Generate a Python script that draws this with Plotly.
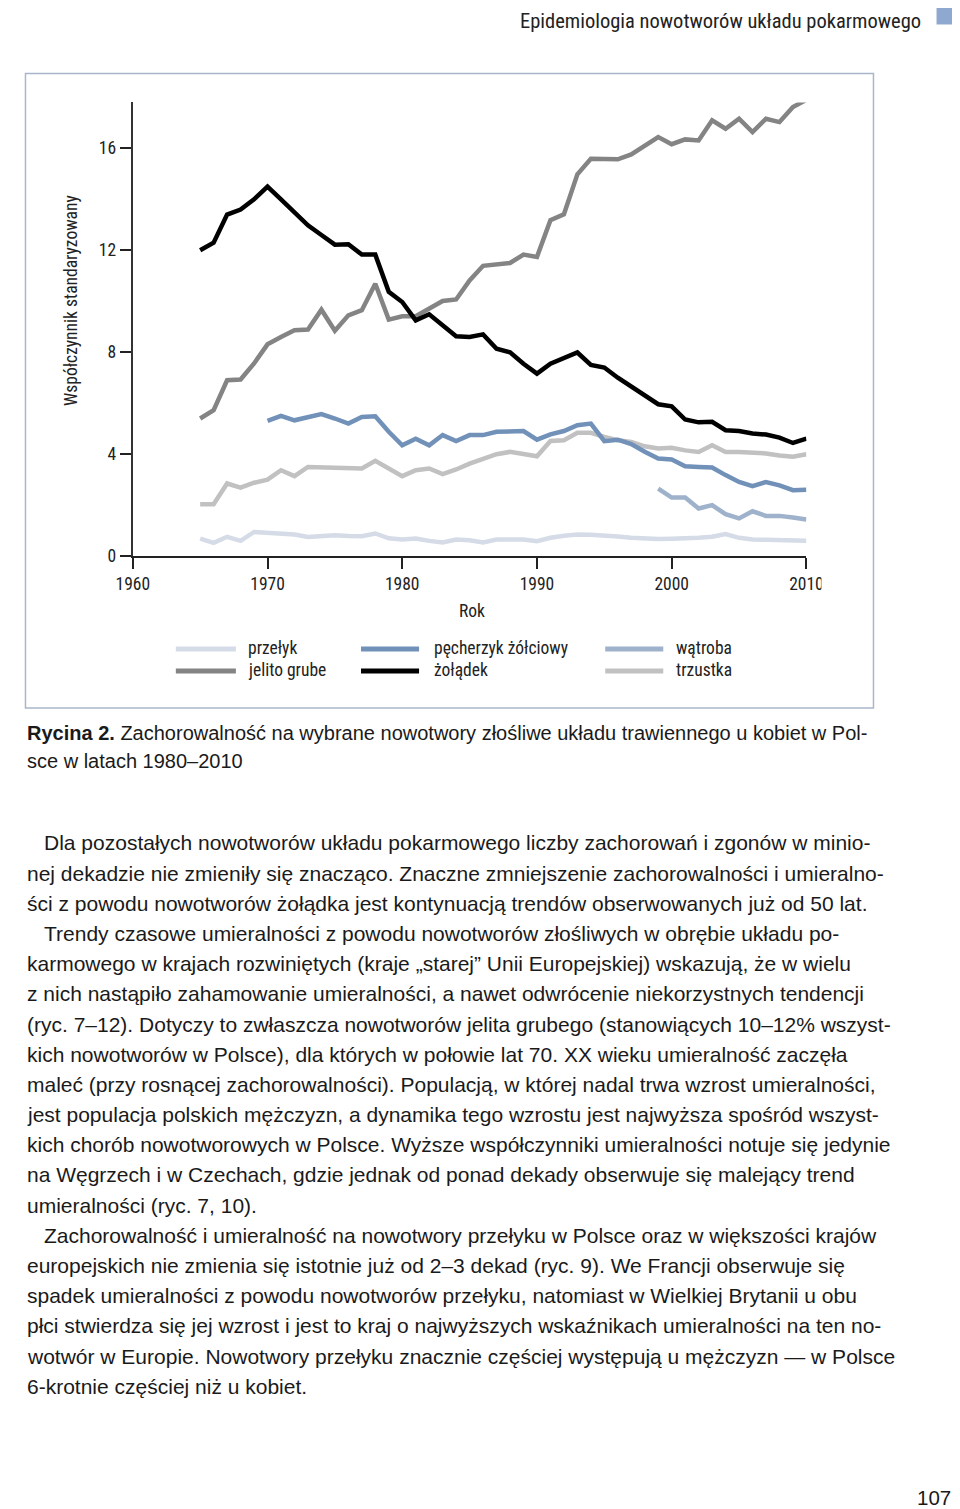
import plotly.graph_objects as go

# figure size and the observed page->picture mapping (picture X = AX + SX*fx)
W, H = 968, 1510
AX, SX = 25.3, 0.964
AY, SY = 7.5, 0.994

# ---------------- data ----------------
years = list(range(1965, 2011))
years_gb = list(range(1970, 2011))
years_liver = list(range(1999, 2011))

przelyk = [0.69, 0.52, 0.76, 0.6, 0.95, 0.93, 0.91, 0.85, 0.75, 0.8,
           0.82, 0.79, 0.78, 0.89, 0.7, 0.65, 0.69, 0.6, 0.54, 0.65,
           0.62, 0.54, 0.65, 0.65, 0.65, 0.59, 0.72, 0.8, 0.85, 0.84,
           0.82, 0.77, 0.72, 0.68, 0.67, 0.68, 0.69, 0.72, 0.76, 0.87,
           0.72, 0.65, 0.64, 0.63, 0.62, 0.6]
trzustka = [2.04, 2.04, 2.85, 2.69, 2.88, 3.0, 3.37, 3.14, 3.5, 3.49,
            3.48, 3.46, 3.44, 3.74, 3.44, 3.14, 3.37, 3.44, 3.22, 3.4,
            3.63, 3.83, 4.0, 4.09, 4.0, 3.92, 4.52, 4.55, 4.84, 4.84,
            4.68, 4.55, 4.48, 4.31, 4.22, 4.25, 4.15, 4.09, 4.35, 4.09,
            4.09, 4.08, 4.03, 3.95, 3.9, 4.0]
watroba = [2.65, 2.3, 2.3, 1.87, 2.0, 1.65, 1.48, 1.76, 1.58, 1.58, 1.52, 1.44]
pecherzyk = [5.31, 5.5, 5.33, 5.46, 5.57, 5.4, 5.2, 5.46, 5.49, 4.88,
             4.35, 4.61, 4.35, 4.75, 4.52, 4.75, 4.75, 4.88, 4.88, 4.91,
             4.57, 4.78, 4.91, 5.14, 5.2, 4.51, 4.57, 4.4, 4.1, 3.83,
             3.79, 3.53, 3.5, 3.48, 3.18, 2.91, 2.75, 2.91, 2.78, 2.59, 2.61]
jelito = [5.4, 5.73, 6.9, 6.93, 7.56, 8.31, 8.6, 8.86, 8.89, 9.67,
          8.84, 9.45, 9.65, 10.69, 9.28, 9.41, 9.41, 9.71, 10.01, 10.07,
          10.82, 11.39, 11.45, 11.5, 11.83, 11.74, 13.18, 13.41, 14.98, 15.59,
          15.58, 15.57, 15.76, 16.08, 16.44, 16.16, 16.35, 16.31, 17.1, 16.77,
          17.16, 16.64, 17.16, 17.03, 17.62, 17.9]
zoladek = [12.0, 12.3, 13.4, 13.6, 14.0, 14.5, 14.0, 13.5, 12.98, 12.6,
           12.22, 12.24, 11.83, 11.83, 10.37, 9.97, 9.25, 9.49, 9.06, 8.63,
           8.6, 8.7, 8.14, 8.0, 7.55, 7.16, 7.55, 7.75, 7.99, 7.5,
           7.4, 7.0, 6.65, 6.3, 5.96, 5.88, 5.36, 5.25, 5.27, 4.94,
           4.91, 4.81, 4.77, 4.65, 4.44, 4.61]

x_ticks = [1960, 1970, 1980, 1990, 2000, 2010]
y_ticks = [0, 4, 8, 12, 16]

series = [
    ("przełyk", years, przelyk, "#d5dce7"),
    ("trzustka", years, trzustka, "#c1c1c1"),
    ("wątroba", years_liver, watroba, "#9fb2cb"),
    ("pęcherzyk żółciowy", years_gb, pecherzyk, "#7191b9"),
    ("jelito grube", years, jelito, "#848485"),
    ("żołądek", years, zoladek, "#000000"),
]

legend_rows = [
    [("przełyk", "#d5dce7"), ("pęcherzyk żółciowy", "#7191b9"), ("wątroba", "#9fb2cb")],
    [("jelito grube", "#848485"), ("żołądek", "#000000"), ("trzustka", "#c1c1c1")],
]

header = "Epidemiologia nowotworów układu pokarmowego"
caption_lines = [
    "<b>Rycina 2.</b> Zachorowalność na wybrane nowotwory złośliwe układu trawiennego u kobiet w Pol-",
    "sce w latach 1980–2010",
]
body_lines = [
    (True, "Dla pozostałych nowotworów układu pokarmowego liczby zachorowań i zgonów w minio-"),
    (False, "nej dekadzie nie zmieniły się znacząco. Znaczne zmniejszenie zachorowalności i umieralno-"),
    (False, "ści z powodu nowotworów żołądka jest kontynuacją trendów obserwowanych już od 50 lat."),
    (True, "Trendy czasowe umieralności z powodu nowotworów złośliwych w obrębie układu po-"),
    (False, "karmowego w krajach rozwiniętych (kraje „starej” Unii Europejskiej) wskazują, że w wielu"),
    (False, "z nich nastąpiło zahamowanie umieralności, a nawet odwrócenie niekorzystnych tendencji"),
    (False, "(ryc. 7–12). Dotyczy to zwłaszcza nowotworów jelita grubego (stanowiących 10–12% wszyst-"),
    (False, "kich nowotworów w Polsce), dla których w połowie lat 70. XX wieku umieralność zaczęła"),
    (False, "maleć (przy rosnącej zachorowalności). Populacją, w której nadal trwa wzrost umieralności,"),
    (False, "jest populacja polskich mężczyzn, a dynamika tego wzrostu jest najwyższa spośród wszyst-"),
    (False, "kich chorób nowotworowych w Polsce. Wyższe współczynniki umieralności notuje się jedynie"),
    (False, "na Węgrzech i w Czechach, gdzie jednak od ponad dekady obserwuje się malejący trend"),
    (False, "umieralności (ryc. 7, 10)."),
    (True, "Zachorowalność i umieralność na nowotwory przełyku w Polsce oraz w większości krajów"),
    (False, "europejskich nie zmienia się istotnie już od 2–3 dekad (ryc. 9). We Francji obserwuje się"),
    (False, "spadek umieralności z powodu nowotworów przełyku, natomiast w Wielkiej Brytanii u obu"),
    (False, "płci stwierdza się jej wzrost i jest to kraj o najwyższych wskaźnikach umieralności na ten no-"),
    (False, "wotwór w Europie. Nowotwory przełyku znacznie częściej występują u mężczyzn — w Polsce"),
    (False, "6-krotnie częściej niż u kobiet."),
]


def px(x):
    fx = max((x - AX) / SX, 0.5)
    return fx / W


def py(y):
    return 1 - ((y - AY) / SY) / H


NARROW = "Liberation Sans Narrow, Roboto Condensed, Arial Narrow, Roboto, sans-serif"
BODY = "Liberation Sans, Arial, sans-serif"

fig = go.Figure()
for name, xs, ys, col in series:
    fig.add_trace(go.Scatter(x=xs, y=ys, mode="lines", name=name,
                             line=dict(color=col, width=4.5), showlegend=False,
                             hoverinfo="skip"))

shapes = []
annotations = []

# figure box
shapes.append(dict(type="rect", xref="paper", yref="paper", x0=px(8), x1=px(873),
                   y0=py(708), y1=py(73), line=dict(color="#a9b7ca", width=1.5),
                   fillcolor="rgba(0,0,0,0)", layer="below"))
# header square
shapes.append(dict(type="rect", xref="paper", yref="paper", x0=px(936), x1=px(954),
                   y0=py(24), y1=py(6), line=dict(width=0), fillcolor="#8ea8cf"))
# clip last tick label like reference
shapes.append(dict(type="rect", xref="paper", yref="paper", x0=px(821), x1=px(845),
                   y0=py(600), y1=py(574), line=dict(width=0), fillcolor="white",
                   layer="above"))

# legend
col_x = [(176, 236, 246), (361, 419, 432), (605, 663, 674)]
row_y = [649, 671]
for r, row in enumerate(legend_rows):
    for c, (label, colr) in enumerate(row):
        x0, x1, xt = col_x[c]
        shapes.append(dict(type="line", xref="paper", yref="paper", x0=px(x0), x1=px(x1),
                           y0=py(row_y[r]), y1=py(row_y[r]), line=dict(color=colr, width=5)))
        annotations.append(dict(text=label, x=px(xt), y=py(row_y[r] - 1), xref="paper", yref="paper",
                                xanchor="left", yanchor="middle", showarrow=False,
                                font=dict(family=NARROW, size=17.5, color="#222")))

# axis titles
annotations.append(dict(text="Współczynnik standaryzowany", x=px(72), y=py(300), xref="paper",
                        yref="paper", textangle=-90, showarrow=False, xanchor="center",
                        yanchor="middle", font=dict(family=NARROW, size=17.5, color="#222")))
annotations.append(dict(text="Rok", x=px(472), y=py(611), xref="paper", yref="paper",
                        showarrow=False, xanchor="center", yanchor="middle",
                        font=dict(family=NARROW, size=17.5, color="#222")))

# header (kept fully inside the figure)
annotations.append(dict(text=header, x=px(921), y=1, xref="paper", yref="paper",
                        showarrow=False, xanchor="right", yanchor="top", borderpad=0,
                        font=dict(family=NARROW, size=20.5, color="#222")))

# caption
for i, t in enumerate(caption_lines):
    annotations.append(dict(text=t, x=px(8), y=py(733 + 28 * i), xref="paper", yref="paper",
                            showarrow=False, xanchor="left", yanchor="middle",
                            font=dict(family=BODY, size=20, color="#1a1a1a")))

# body text
for i, (indent, t) in enumerate(body_lines):
    annotations.append(dict(text=t, x=px(42 if indent else 8), y=py(843 + 30.2 * i),
                            xref="paper", yref="paper", showarrow=False, xanchor="left",
                            yanchor="middle", font=dict(family=BODY, size=21, color="#1a1a1a")))

# page number
annotations.append(dict(text="107", x=px(952), y=py(1498), xref="paper", yref="paper",
                        showarrow=False, xanchor="right", yanchor="middle",
                        font=dict(family=BODY, size=20.5, color="#1a1a1a")))

fig.update_layout(
    width=W, height=H, autosize=False,
    margin=dict(l=0, r=0, t=0, b=0),
    paper_bgcolor="white", plot_bgcolor="white",
    shapes=shapes, annotations=annotations,
    xaxis=dict(domain=[px(133), px(806)], range=[1960, 2010], tickvals=x_ticks,
               ticks="outside", ticklen=11, tickwidth=1.5, tickcolor="#222",
               showline=True, linecolor="#222", linewidth=1.5, showgrid=False,
               zeroline=False, tickfont=dict(family=NARROW, size=17.5, color="#222")),
    yaxis=dict(domain=[py(556), py(102)], range=[0, 17.8], tickvals=y_ticks,
               ticks="outside", ticklen=11.5, tickwidth=1.5, tickcolor="#222",
               showline=True, linecolor="#333", linewidth=1.5, showgrid=False,
               zeroline=False, tickfont=dict(family=NARROW, size=17.5, color="#222")),
)

fig.write_html("out.html")
